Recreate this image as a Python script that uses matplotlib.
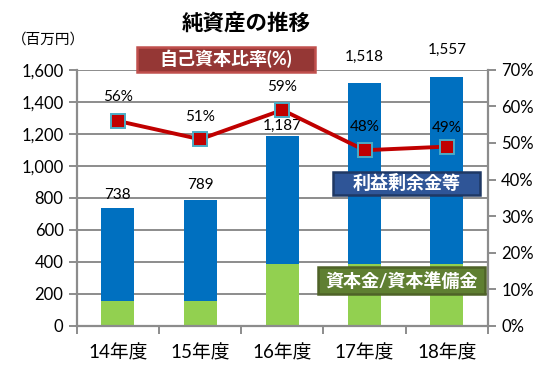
import matplotlib
matplotlib.use('Agg')
import matplotlib.pyplot as plt
from matplotlib.patches import Rectangle
from matplotlib.ticker import FuncFormatter, PercentFormatter

plt.rcParams['font.family'] = ['Lato', 'Noto Sans CJK JP']

years = ['14年度', '15年度', '16年度', '17年度', '18年度']
total_assets = [738, 789, 1187, 1518, 1557]
capital = [157, 157, 384, 384, 384]
equity_ratio = [56, 51, 59, 48, 49]

# label offsets (px above the mark), hand-placed like the original
total_offsets = [13, 15, 10, 26, 27]
ratio_offsets = [24, 22, 23, 23, 19]

W, H = 550, 374
fig = plt.figure(figsize=(W / 100, H / 100), dpi=100)
ax = fig.add_axes([76.7 / W, 1 - 326 / H, (488 - 76.7) / W, (326 - 69.7) / H])

x = list(range(len(years)))
retained = [t - c for t, c in zip(total_assets, capital)]
ax.bar(x, capital, width=0.4, color='#92D050', zorder=2)
ax.bar(x, retained, width=0.4, bottom=capital, color='#0070C0', zorder=2)

ax.set_xlim(-0.5, len(years) - 0.5)
ax.set_ylim(0, 1600)
ax.set_yticks(range(0, 1601, 200))
ax.yaxis.set_major_formatter(FuncFormatter(lambda v, p: '{:,.0f}'.format(v)))
ax.grid(axis='y', color='#8C8C8C', linewidth=1.4, zorder=0)
ax.set_axisbelow(True)
ax.set_xticks(x)
ax.set_xticklabels(years, fontsize=13.5)
ax.set_xticks([i + 0.5 for i in range(-1, len(years))], minor=True)
ax.tick_params(axis='x', which='major', length=0, pad=13)
ax.tick_params(axis='x', which='minor', length=6, width=1.4, color='#8C8C8C')
ax.tick_params(axis='y', length=6, width=1.4, color='#8C8C8C', labelsize=12)
for s in ['top', 'right']:
    ax.spines[s].set_visible(False)
for s in ['left', 'bottom']:
    ax.spines[s].set_color('#8C8C8C')
    ax.spines[s].set_linewidth(1.6)

for i, (t, off) in enumerate(zip(total_assets, total_offsets)):
    ax.annotate('{:,}'.format(t), (i, t), xytext=(0, off * 0.72), textcoords='offset points',
                ha='center', va='center', fontsize=11)

ax2 = ax.twinx()
ratio = [r / 100 for r in equity_ratio]
ax2.plot(x, ratio, color='#C00000', linewidth=2.8, marker='s', markersize=9.5,
         markerfacecolor='#C00000', markeredgecolor='#4BACC6', markeredgewidth=1.4, zorder=3)
ax2.set_ylim(0, 0.7)
ax2.set_yticks([i / 10 for i in range(8)])
ax2.yaxis.set_major_formatter(PercentFormatter(1.0, decimals=0))
ax2.tick_params(axis='y', length=6, width=1.4, color='#8C8C8C', labelsize=12)
for s in ['top', 'left', 'bottom']:
    ax2.spines[s].set_visible(False)
ax2.spines['right'].set_color('#8C8C8C')
ax2.spines['right'].set_linewidth(1.6)

for i, (r, off) in enumerate(zip(ratio, ratio_offsets)):
    ax2.annotate('{}%'.format(equity_ratio[i]), (i, r), xytext=(0, off * 0.72),
                 textcoords='offset points', ha='center', va='center', fontsize=11)

fig.text(246 / W, 1 - 23 / H, '純資産の推移', ha='center', va='center',
         fontsize=15.5, fontweight='bold', family='Noto Sans CJK JP')
fig.text(48 / W, 1 - 40 / H, '（百万円）', ha='center', va='center', fontsize=10.5)


def label_box(x0, y0, x1, y1, text, face, edge):
    fig.patches.append(Rectangle((x0 / W, 1 - y1 / H), (x1 - x0) / W, (y1 - y0) / H,
                                 transform=fig.transFigure, facecolor=face, edgecolor=edge,
                                 linewidth=1.8, zorder=5))
    fig.text((x0 + x1) / 2 / W, 1 - (y0 + y1) / 2 / H, text, ha='center', va='center',
             fontsize=13, color='white', fontweight='bold', zorder=6)


label_box(137, 46.7, 315, 71.7, '自己資本比率(%)', '#953735', '#C0504D')
label_box(332.7, 171.7, 480, 195, '利益剰余金等', '#2F5597', '#1F3864')
label_box(318, 266.7, 485, 294.3, '資本金/資本準備金', '#5F7F32', '#4F6228')

plt.savefig('out.png', dpi=100)
plt.close()
